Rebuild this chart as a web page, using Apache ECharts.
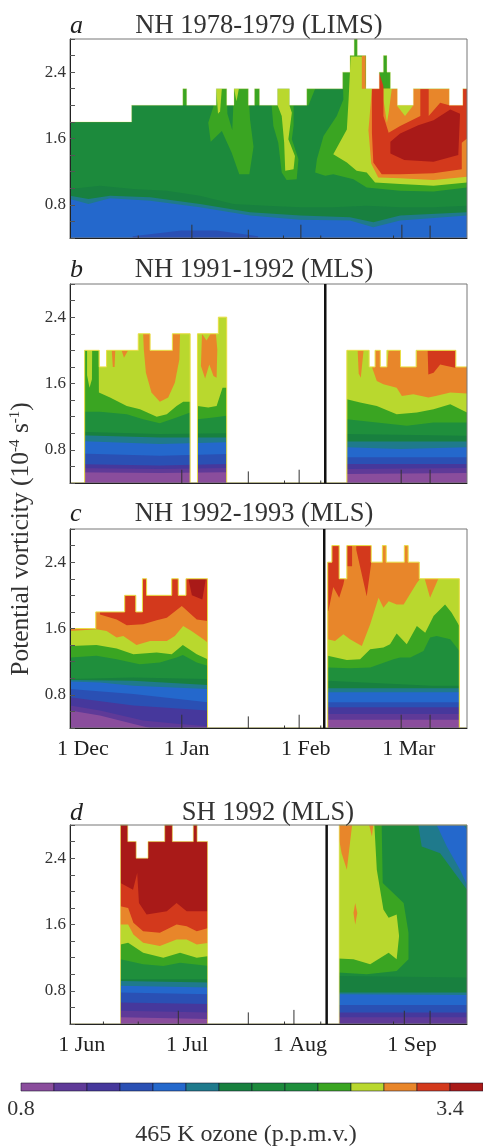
<!DOCTYPE html>
<html>
<head>
<meta charset="utf-8">
<style>html,body{margin:0;padding:0;background:#fff}#main{width:483px;height:1146px}</style>
<script src="https://cdn.jsdelivr.net/npm/echarts@6/dist/echarts.min.js"></script>
</head>
<body>
<div id="main"></div>
<script>
// one colour per 0.2 p.p.m.v. ozone step, starting at 0.8
var ozoneColors = ['#8a4d9c','#5f3a98','#46389c','#2a50b4','#2468cc','#1f7a8c','#18803f','#1c8a3c','#1f8f3c','#3aa522','#b9d82e','#e8862a','#d3391c','#a91a18'];
var ozoneLabels = [0.8, 3.4];

// x is days since 1 Dec (or 1 Jun), y is potential vorticity
// *Top: highest PV with data, as [startDay, pv] steps
// *Patches: [colour level, polygon], *Bands: [colour level, top edge], filled down to the axis
var aTop = [[-4,1.8],[13.7,2],[28.4,2.2],[29.5,2],[38,2.2],[41,2],[43.1,2.2],[47.2,2],[49,2.2],[50.4,2],[55.6,2.2],[59,2],[64,2.2],[74.3,2.4],[76.4,2.6],[77.6,2.8],[78.5,2.6],[81,2.2],[84.8,2.4],[86,2.6],[87,2.4],[88,2.2],[90,2],[94.6,2.2],[104.9,2],[108.8,2.2],[110,2.2]];
var aPatches = [
  [7,[[-4,0.4],[-4,2.8],[110,2.8],[110,0.4]]],
  [9,[[37.6,2.2],[41,2.2],[41.2,1.9],[42.6,1.7],[43.1,2.2],[47.2,2.2],[47.7,1.83],[48.7,1.5],[47.5,1.17],[44.6,1.17],[42.4,1.43],[39.6,1.69],[36.4,1.56],[35.7,1.79],[37.2,1.99]]],
  [9,[[49,2.2],[50.4,2.2],[50.4,2],[49,2]]],
  [9,[[28.4,2.2],[29.5,2.2],[29.5,2],[28.4,2]]],
  [10,[[38,2.2],[39.6,2.2],[39.1,1.93],[38.5,1.9]]],
  [10,[[43.1,2.2],[44.5,2.2],[43.8,2.05]]],
  [9,[[53.9,2],[60.2,2],[60.2,1.75],[59.7,1.59],[61.6,1.35],[61.1,1.11],[58.2,1.1],[56.8,1.19],[55.8,1.55],[54.4,1.75]]],
  [10,[[55.6,2.2],[59,2.2],[59,2],[59.7,1.91],[58.7,1.59],[60.6,1.39],[60.2,1.23],[57.8,1.21],[57.5,1.55],[56.8,1.87],[55.6,2]]],
  [9,[[64,2.2],[66.4,2.2],[64.5,2],[64,2]]],
  [9,[[74.3,2.41],[76.4,2.6],[77.6,2.8],[80.9,2.8],[110,2.8],[110,1.01],[100.4,0.96],[90.8,0.97],[81.2,1.01],[77.4,1.11],[71.6,1.17],[69.3,1.15],[66.4,1.19],[66.9,1.35],[68.8,1.63],[72.6,1.87],[74.5,2.07]]],
  [10,[[76.6,2.59],[79.8,2.59],[80.9,2.2],[110,2.2],[110,1.07],[100.4,1.03],[90.8,1.05],[83.6,1.07],[81.2,1.19],[78.3,1.21],[75.5,1.31],[71.6,1.41],[75.5,1.71],[76,2.07]]],
  [11,[[79.8,2.6],[80.9,2.6],[80.9,2.2],[79.8,2.2]]],
  [11,[[82.7,2.2],[110,2.2],[110,1.14],[100.4,1.1],[90.8,1.12],[84.5,1.13],[82.5,1.3],[81.7,1.7]]],
  [10,[[86,2.2],[88.4,2.2],[87.5,1.91],[87,1.79],[86,2.07]]],
  [10,[[89.8,2],[94.6,2],[92.2,1.87]]],
  [12,[[82.7,2.2],[84.8,2.39],[86,2.23],[86,1.87],[87.5,1.67],[90.8,1.75],[96.6,1.87],[96.6,2.2],[99,2.2],[99,1.87],[102.3,2.03],[104.9,2],[108.8,2],[108.8,2.2],[110,2.2],[110,1.6],[108.5,1.55],[108.5,1.23],[100.4,1.18],[90.8,1.17],[85.5,1.17],[83.1,1.31],[82.7,1.67]]],
  [13,[[90.8,1.66],[96,1.76],[100.4,1.82],[105.2,1.95],[108,1.9],[107.5,1.4],[100.4,1.32],[92,1.34],[88,1.42],[88,1.56]]],
  [9,[[86,2.6],[87,2.6],[87,2.25],[86,2.25]]]
];
var aBands = [
  [6,[[-4,0.99],[4.6,1.03],[14.2,0.99],[23.8,0.97],[33.3,0.91],[42.9,0.81],[52.5,0.79],[62.1,0.77],[71.6,0.77],[81.2,0.79],[90.8,0.77],[100.4,0.77],[110,0.79]]],
  [5,[[-4,0.91],[1.3,0.87],[7.5,0.91],[19,0.89],[33.3,0.81],[47.7,0.71],[62.1,0.67],[76.4,0.65],[83.1,0.59],[90.8,0.67],[110,0.71]]],
  [4,[[-4,0.87],[1.3,0.81],[7.5,0.88],[19,0.85],[33.3,0.77],[47.7,0.67],[62.1,0.62],[76.4,0.61],[83.1,0.53],[90.8,0.61],[110,0.67]]],
  [3,[[14,0.42],[28,0.49],[38,0.49],[45,0.45],[50,0.42]]]
];
var aTicks = [[15.6,0.03],[31,0.16],[47.2,0.1],[57.3,0.03],[62.3,0.16],[68,0.03],[88.9,0.03],[91.3,0.16],[99.4,0.15]];

var bTop = [[-4,0.4],[0.2,2],[4.4,1.8],[6.5,2],[15.6,2.2],[19,2],[25.4,2.2],[30.5,0.4],[32.6,2.2],[38.6,2.4],[41,0.4],[75.5,2],[81.9,1.8],[83.6,2],[85.1,1.8],[87,2],[90.9,1.8],[95.4,2],[106.8,1.8],[110,1.8]];
var bPatches = [
  [10,[[-4,0.4],[-4,2.8],[110,2.8],[110,0.4]]],
  [11,[[17,2.2],[27.6,2.2],[27.4,1.89],[26.1,1.61],[24.2,1.43],[21.8,1.38],[19.4,1.49],[17.8,1.73],[17.2,2.01]]],
  [11,[[8,2],[9,2],[8.8,1.8],[8.3,1.8]]],
  [11,[[10.8,2],[12.7,2],[11.5,1.91]]],
  [11,[[33.9,2.2],[35.2,2.12],[36.4,2.2],[37.9,2.2],[38.3,2.01],[38.1,1.67],[37.2,1.69],[36,1.83],[34.8,1.66],[33.6,1.81]]],
  [11,[[78.6,2],[80.3,2],[79.5,1.67],[78.9,1.72]]],
  [11,[[82.7,1.8],[83.6,1.8],[83.6,2],[85.1,2],[85.1,1.8],[87,1.8],[87.5,2],[91.3,2],[91.3,1.8],[95.4,1.8],[95.6,2],[110,2],[110,1.48],[105.2,1.49],[101,1.45],[98.9,1.43],[94.6,1.47],[91.3,1.45],[89.8,1.55],[86,1.59],[84.1,1.63]]],
  [12,[[98.7,2],[106.8,2],[106.6,1.79],[104.2,1.81],[102.3,1.83],[100.4,1.73],[98.9,1.71]]]
];
var bBands = [
  [9,[[-4,2.8],[0.9,2.8],[0.9,1.7],[1.6,1.55],[2.3,1.65],[2.5,2.8],[4.1,2.8],[4.3,1.49],[7.5,1.43],[12.3,1.33],[16.1,1.29],[20.9,1.2],[23.8,1.23],[26.6,1.33],[28.5,1.38],[30.5,1.38],[32.6,1.33],[35.7,1.31],[38.1,1.33],[39.8,1.55],[41,1.55],[75.5,1.41],[79.3,1.37],[84.1,1.33],[89.8,1.23],[95.6,1.25],[100.4,1.29],[105.2,1.35],[110,1.25]]],
  [8,[[-4,1.26],[4.6,1.26],[12.3,1.23],[17,1.17],[21.8,1.12],[26.6,1.19],[30.5,1.25],[32.6,1.17],[37.2,1.19],[41,1.21],[75.5,1.17],[84.1,1.13],[92.7,1.09],[100.4,1.13],[110,1.13]]],
  [6,[[-4,1.02],[21.8,0.99],[41,1],[75.5,0.99],[110,0.97]]],
  [5,[[-4,0.98],[21.8,0.95],[41,0.95],[75.5,0.9],[110,0.9]]],
  [4,[[-4,0.91],[21.8,0.87],[41,0.89],[75.5,0.83],[90.8,0.81],[110,0.83]]],
  [3,[[-4,0.76],[21.8,0.73],[41,0.75],[75.5,0.71],[110,0.71]]],
  [2,[[-4,0.63],[21.8,0.61],[41,0.63],[75.5,0.63],[110,0.63]]],
  [1,[[-4,0.58],[21.8,0.57],[41,0.58],[75.5,0.57],[110,0.58]]],
  [0,[[-4,0.53],[21.8,0.52],[41,0.53],[75.5,0.51],[110,0.52]]]
];
var bTicks = [[28.1,0.16],[47.2,0.14],[57.6,0.03],[61.8,0.16],[68,0.03],[91.1,0.16],[99.4,0.16]];
var bDivider = 69.3;

var cTop = [[-4,1.6],[3.4,1.8],[11.7,2],[14.9,1.8],[16.8,2.2],[18,2],[25.2,2.2],[27.1,2],[29.3,2.2],[35.5,0.4],[70,2.4],[71.2,2.6],[73.3,2.2],[75.5,2.6],[82.5,2.4],[85.7,2.6],[86.8,2.4],[92,2.6],[93.1,2.4],[96.3,2.2],[107.8,0.4],[110,0.4]];
var cPatches = [
  [12,[[-4,0.4],[-4,2.8],[110,2.8],[110,0.4]]],
  [13,[[30,2.2],[35,2.2],[34,1.95],[31,2]]]
];
var cBands = [
  [11,[[-4,2.8],[4.4,2.8],[4.6,1.77],[9.4,1.71],[12.3,1.64],[17,1.65],[20.9,1.7],[23.8,1.73],[28.1,1.87],[32.4,1.71],[35.5,1.69],[70.2,1.81],[71.6,2.1],[73.3,1.97],[74.5,2.13],[75.5,2.35],[77,2.35],[77,2.8],[78.2,2.8],[78.2,2.55],[81.2,1.99],[82.5,2.39],[82.5,2.8],[110,2.8]]],
  [10,[[-3.8,1.57],[3.6,1.59],[6.5,1.57],[9.4,1.49],[11.3,1.51],[15.1,1.4],[19,1.45],[23.8,1.45],[26.1,1.51],[28.5,1.63],[30.9,1.57],[34.3,1.47],[35.5,1.43],[70,1.47],[72.1,1.45],[74.5,1.53],[76.4,1.47],[79.8,1.39],[82.2,1.65],[84.6,1.97],[86,1.85],[87.5,1.93],[89.8,1.89],[91.8,1.89],[95.6,2.15],[97.5,2.25],[99.4,1.97],[102.3,2.25],[110,2.25]]],
  [9,[[-3.8,1.39],[3.6,1.4],[9.4,1.36],[14.2,1.29],[17,1.3],[20.9,1.31],[25.2,1.29],[28.4,1.4],[32.4,1.29],[35.5,1.23],[70,1.27],[75.5,1.22],[79.3,1.23],[82.2,1.35],[86,1.37],[87.9,1.41],[89.8,1.54],[92.7,1.41],[95.6,1.63],[98,1.55],[100.4,1.75],[103.7,1.89],[105.6,1.79],[107.8,1.63],[110,1.6]]],
  [8,[[-3.8,1.25],[3.6,1.27],[9.4,1.23],[16,1.17],[21.8,1.19],[26.6,1.25],[28.4,1.28],[32.4,1.19],[35.5,1.15],[70,1.13],[76.4,1.12],[82.2,1.13],[88.9,1.23],[90.8,1.25],[93.7,1.25],[97.5,1.33],[99.4,1.49],[101.3,1.51],[105.2,1.47],[107.8,1.33],[110,1.3]]],
  [6,[[-4,0.99],[14,1.01],[35.5,0.99],[70,0.97],[100,0.91],[110,0.91]]],
  [5,[[-4,0.98],[14,0.97],[35.5,0.92],[70,0.88],[110,0.88]]],
  [4,[[-4,0.96],[4.6,0.95],[14.2,0.91],[35.5,0.87],[70,0.83],[110,0.83]]],
  [3,[[-4,0.87],[14.2,0.81],[35.5,0.71],[70,0.71],[110,0.71]]],
  [2,[[-4,0.77],[14.2,0.67],[35.5,0.61],[70,0.65],[110,0.65]]],
  [1,[[-4,0.67],[4.6,0.61],[17,0.49],[26.6,0.45],[35.5,0.42],[70,0.57],[110,0.57]]],
  [0,[[-4,0.61],[4.6,0.55],[16,0.43],[19,0.4],[70,0.4],[70,0.5],[110,0.5]]]
];
var cTicks = [[28.1,0.16],[47.2,0.14],[57.6,0.03],[61.8,0.16],[68,0.03],[91.1,0.16],[99.4,0.16]];
var cDivider = 69;
var cLabels = ['1 Dec','1 Jan','1 Feb','1 Mar'];
var cLabelDays = [-0.3,29.5,63.7,93.3];

var dTop = [[-4,0.4],[10.5,2.8],[12.6,2.6],[15,2.4],[18.4,2.6],[23.2,2.8],[25.4,2.6],[31.4,2.8],[32.5,2.6],[35.5,0.4],[73.3,2.8],[110,2.8]];
var dPatches = [
  [13,[[10,0.4],[10,2.8],[36,2.8],[36,0.4]]],
  [7,[[73,0.4],[73,2.8],[110,2.8],[110,0.4]]],
  [5,[[96,2.8],[110,2.8],[110,2.02],[107.2,2.18],[102.3,2.46],[97,2.54]]],
  [4,[[101.3,2.8],[109,2.8],[110,2.74],[110,2.08],[108,2.26],[104.2,2.54]]],
  [9,[[73,2.8],[85.5,2.8],[85.8,2.1],[91.8,1.86],[93.2,1.5],[93.2,1.18],[89.8,1.04],[81.2,1],[73,1.02]]],
  [10,[[73,2.8],[83.4,2.8],[84.1,2.26],[86,1.78],[87.5,1.68],[89.8,1.72],[90.5,1.46],[89.8,1.18],[87.5,1.26],[82.2,1.12],[77.4,1.18],[73,1.19]]],
  [11,[[73.3,2.8],[77,2.8],[75.5,2.26],[74,2.46],[73.3,2.62]]],
  [11,[[81.9,2.8],[83.1,2.8],[82.7,2.66]]],
  [11,[[77.9,1.86],[78.5,1.74],[77.9,1.6],[77.4,1.74]]]
];
var dBands = [
  [12,[[10.5,2.1],[14.1,2.02],[15.3,2.22],[15.8,1.86],[18,1.72],[23.8,1.76],[26.6,1.86],[29.5,1.76],[36,1.76]]],
  [11,[[10.5,1.82],[12.7,1.8],[14.2,1.62],[17,1.52],[21.8,1.5],[26.6,1.6],[29.5,1.58],[32.4,1.52],[36,1.56]]],
  [10,[[10.5,1.6],[12.7,1.6],[14.2,1.48],[17,1.38],[21.8,1.34],[26.6,1.42],[29.5,1.42],[32.4,1.36],[36,1.38]]],
  [9,[[10.5,1.36],[12.7,1.38],[17,1.26],[22.8,1.2],[27.6,1.26],[32.4,1.2],[36,1.22]]],
  [8,[[10.5,1.18],[17,1.12],[22.8,1.1],[27.6,1.14],[36,1.1]]],
  [6,[[10.5,0.94],[36,0.94],[73,0.98],[110,0.96]]],
  [5,[[10.5,0.92],[36,0.9],[73,0.78],[110,0.78]]],
  [4,[[10.5,0.86],[36,0.84],[73,0.76],[110,0.75]]],
  [3,[[10.5,0.78],[36,0.76],[73,0.63],[110,0.63]]],
  [2,[[10.5,0.66],[36,0.64],[73,0.54],[110,0.54]]],
  [1,[[10.5,0.56],[36,0.54],[73,0.48],[110,0.48]]],
  [0,[[10.5,0.48],[36,0.46],[40,0.4],[110,0.4]]]
];
var dTicks = [[5.6,0.03],[15.6,0.03],[27.1,0.16],[47.2,0.14],[57.6,0.03],[60.3,0.17],[68,0.03],[88.9,0.03],[92,0.16],[99.4,0.16]];
var dDivider = 69.7;
var dLabels = ['1 Jun','1 Jul','1 Aug','1 Sep'];
var dLabelDays = [-0.6,29.6,62,94.2];

var serif = '"Liberation Serif"';
var dayMin = -4, dayMax = 110, pvMin = 0.4, pvMax = 2.8;
var pvLabels = [0.8, 1.6, 2.4];

var panels = [
  {letter:'a', title:'NH 1978-1979 (LIMS)', titleX:259, top:39, bottom:238, titleY:26, rim:0.25, steps:aTop, patches:aPatches, bands:aBands, ticks:aTicks},
  {letter:'b', title:'NH 1991-1992 (MLS)', titleX:254, top:284, bottom:483, titleY:270, rim:1, steps:bTop, patches:bPatches, bands:bBands, ticks:bTicks, divider:bDivider},
  {letter:'c', title:'NH 1992-1993 (MLS)', titleX:254, top:529, bottom:728, titleY:514, rim:1, steps:cTop, patches:cPatches, bands:cBands, ticks:cTicks, divider:cDivider, labels:cLabels, labelDays:cLabelDays},
  {letter:'d', title:'SH 1992 (MLS)', titleX:268, top:825, bottom:1024, titleY:813, rim:0.6, steps:dTop, patches:dPatches, bands:dBands, ticks:dTicks, divider:dDivider, labels:dLabels, labelDays:dLabelDays}
];

function stepLine(steps){
  var pts = [];
  for(var i = 0; i < steps.length - 1; i++){
    pts.push([steps[i][0], steps[i][1]]);
    pts.push([steps[i+1][0], steps[i][1]]);
  }
  return pts;
}

function polygonItem(pts, api, style){
  return {type:'polygon', shape:{points:pts.map(function(p){ return api.coord(p); })}, style:style};
}

var option = {
  animation:false,
  backgroundColor:'#fff',
  title:[], grid:[], xAxis:[], yAxis:[], series:[],
  graphic:[{
    type:'text', x:21, y:539, rotation:Math.PI/2,
    style:{
      text:'Potential vorticity (10{sup|-4} s{sup|-1})',
      fontFamily:serif, fontSize:25.5, fill:'#333', textAlign:'center', textVerticalAlign:'middle',
      rich:{sup:{fontFamily:serif, fontSize:15, fill:'#333', verticalAlign:'top', padding:[0,0,8,0]}}
    }
  }]
};

panels.forEach(function(p, idx){
  option.title.push({text:p.title, left:p.titleX, top:p.titleY, padding:0, textAlign:'center', textVerticalAlign:'middle',
    textStyle:{fontFamily:serif, fontSize:26.5, fontWeight:'normal', color:'#333'}});
  option.title.push({text:p.letter, left:70, top:p.titleY, padding:0, textVerticalAlign:'middle',
    textStyle:{fontFamily:serif, fontSize:26, fontStyle:'italic', fontWeight:'normal', color:'#222'}});
  option.grid.push({left:70, width:397, top:p.top, height:p.bottom - p.top, show:false});
  option.xAxis.push({
    gridIndex:idx, type:'value', min:dayMin, max:dayMax, z:6, splitLine:{show:false},
    axisLine:{onZero:false, lineStyle:{color:'#222', width:1}}, axisTick:{show:false},
    axisLabel:{
      show:!!p.labels, customValues:p.labelDays || [], margin:10, hideOverlap:false, showMinLabel:true, showMaxLabel:true,
      fontFamily:serif, fontSize:22, color:'#222',
      formatter:function(v){ return p.labels ? p.labels[p.labelDays.indexOf(v)] : ''; }
    }
  });
  option.yAxis.push({
    gridIndex:idx, type:'value', min:pvMin, max:pvMax, interval:0.2, z:6, splitLine:{show:false},
    axisLine:{onZero:false, lineStyle:{color:'#222', width:1}},
    axisTick:{inside:true, length:5, lineStyle:{color:'#555'}},
    axisLabel:{customValues:pvLabels, margin:4, fontFamily:serif, fontSize:17, color:'#333', formatter:function(v){ return v.toFixed(1); }}
  });

  var layers = p.patches.map(function(l){ return {level:l[0], pts:l[1]}; });
  p.bands.forEach(function(b){
    var top = b[1];
    layers.push({level:b[0], pts:[[top[0][0], pvMin]].concat(top, [[top[top.length-1][0], pvMin]])});
  });
  option.series.push({
    type:'custom', xAxisIndex:idx, yAxisIndex:idx, clip:true, z:2, silent:true,
    data:layers.map(function(l, i){ return [i]; }),
    encode:{x:0},
    renderItem:function(params, api){
      var l = layers[params.dataIndex];
      return polygonItem(l.pts, api, {fill:ozoneColors[l.level]});
    }
  });

  // white above the data, thin yellow rim along the step edge, then ticks and divider
  var rim = stepLine(p.steps);
  var overlay = [{kind:'mask'},{kind:'rim'},{kind:'frame'}];
  p.ticks.forEach(function(t){ overlay.push({kind:'tick', day:t[0], len:t[1]}); });
  if(p.divider != null){ overlay.push({kind:'divider', day:p.divider}); }
  option.series.push({
    type:'custom', xAxisIndex:idx, yAxisIndex:idx, clip:false, z:3, silent:true,
    data:overlay.map(function(o, i){ return [i]; }),
    encode:{x:0},
    renderItem:function(params, api){
      var o = overlay[params.dataIndex];
      if(o.kind === 'mask'){
        return polygonItem(rim.concat([[dayMax,pvMax],[dayMin,pvMax]]), api, {fill:'#fff'});
      }
      if(o.kind === 'rim'){
        return {type:'polyline', shape:{points:rim.map(function(q){ return api.coord(q); })}, style:{fill:null, stroke:'#e9de45', lineWidth:1, opacity:p.rim}};
      }
      if(o.kind === 'frame'){
        var c0 = api.coord([dayMin,pvMax]), c1 = api.coord([dayMax,pvMin]);
        return {type:'rect', shape:{x:c0[0], y:c0[1], width:c1[0]-c0[0], height:c1[1]-c0[1]}, style:{fill:null, stroke:'#777', lineWidth:1}};
      }
      var a, b, w;
      if(o.kind === 'tick'){
        a = api.coord([o.day,pvMin]); b = api.coord([o.day,pvMin + o.len]); w = 1;
      }else{
        a = api.coord([o.day,pvMin]); b = api.coord([o.day,pvMax]); w = 2.5;
      }
      return {type:'line', shape:{x1:a[0], y1:a[1], x2:b[0], y2:b[1]}, style:{stroke:o.kind === 'tick' ? '#333' : '#111', lineWidth:w}};
    }
  });
});

// colour bar
var barIdx = panels.length;
option.title.push({text:'465 K ozone (p.p.m.v.)', left:246, top:1135, padding:0, textAlign:'center', textVerticalAlign:'middle',
  textStyle:{fontFamily:serif, fontSize:24, fontWeight:'normal', color:'#333'}});
option.grid.push({left:21, width:462, top:1083, height:8, show:false});
option.xAxis.push({
  gridIndex:barIdx, type:'value', min:0.8, max:3.6, splitLine:{show:false},
  axisLine:{show:false}, axisTick:{show:false},
  axisLabel:{customValues:ozoneLabels, margin:7, fontFamily:serif, fontSize:22, color:'#333', formatter:function(v){ return v.toFixed(1); }}
});
option.yAxis.push({gridIndex:barIdx, type:'value', min:0, max:1, show:false});
option.series.push({
  type:'custom', xAxisIndex:barIdx, yAxisIndex:barIdx, silent:true,
  data:ozoneColors.map(function(c, i){ return [i]; }),
  encode:{x:0},
  renderItem:function(params, api){
    var i = params.dataIndex;
    var a = api.coord([0.8 + 0.2*i, 1]), b = api.coord([0.8 + 0.2*(i+1), 0]);
    return {type:'rect', shape:{x:a[0], y:a[1], width:b[0]-a[0], height:b[1]-a[1]}, style:{fill:ozoneColors[i], stroke:'rgba(20,20,40,0.55)', lineWidth:1}};
  }
});

var chart = echarts.init(document.getElementById('main'), null, {renderer:'canvas'});
chart.setOption(option);
</script>
</body>
</html>
